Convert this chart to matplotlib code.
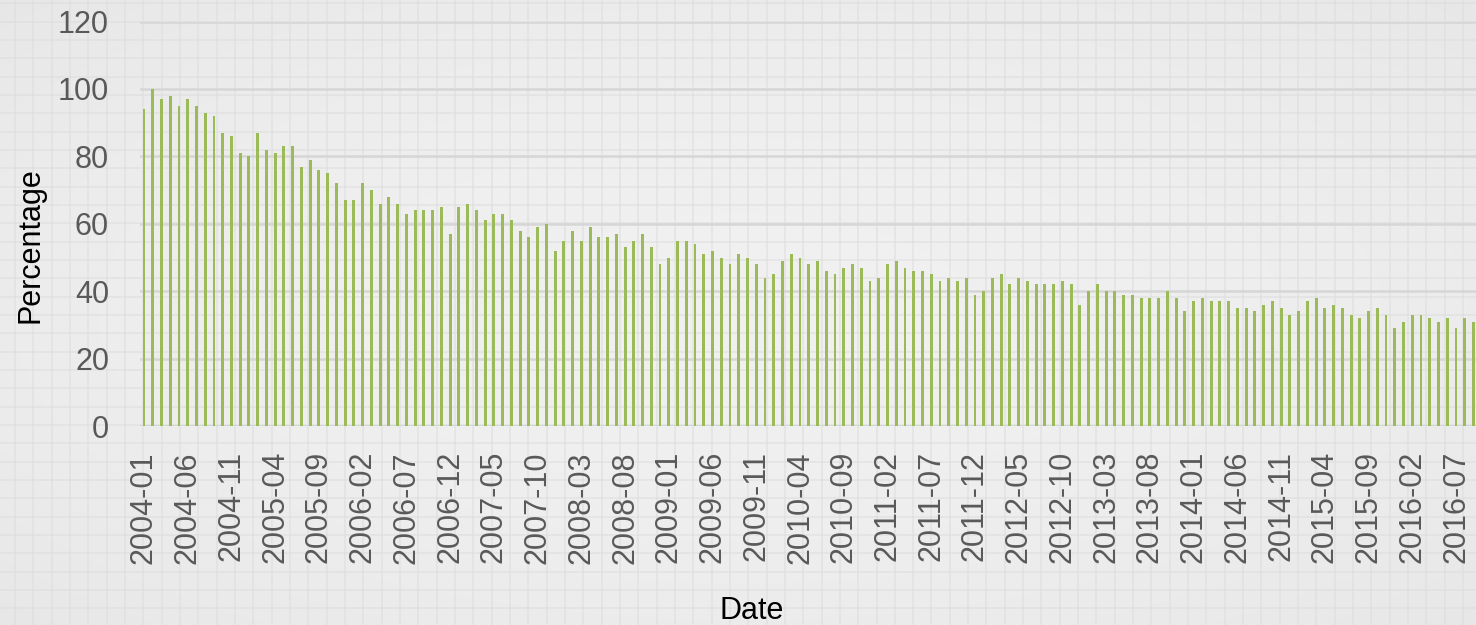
import matplotlib
matplotlib.use("Agg")
import matplotlib.pyplot as plt
import numpy as np
import pandas as pd

plt.rcParams['font.family'] = ['Liberation Sans', 'DejaVu Sans']

# ---- data ----
months = [p.strftime('%Y-%m') for p in pd.period_range('2004-01', '2016-09', freq='M')]
percentage = [
    94, 100, 97, 98, 95, 97, 95, 93, 92, 87, 86, 81, 80, 87, 82, 81, 83, 83, 77, 79,
    76, 75, 72, 67, 67, 72, 70, 66, 68, 66, 63,
    64, 64, 64, 65, 57, 65, 66, 64, 61, 63, 63, 61, 58, 56, 59, 60, 52, 55, 58, 55,
    59, 56, 56, 57, 53, 55, 57, 53, 48, 50, 55,
    55, 54, 51, 52, 50, 48, 51, 50, 48, 44, 45, 49, 51, 50, 48, 49, 46, 45, 47, 48,
    47, 43, 44, 48, 49, 47, 46, 46, 45, 43, 44,
    43, 44, 39, 40, 44, 45, 42, 44, 43, 42, 42, 42, 43, 42, 36, 40, 42, 40, 40, 39,
    39, 38, 38, 38, 40, 38, 34, 37, 38, 37, 37,
    37, 35, 35, 34, 36, 37, 35, 33, 34, 37, 38, 35, 36, 35, 33, 32, 34, 35, 33, 29,
    31, 33, 33, 32, 31, 32, 29, 32, 31,
]
yticks = [0, 20, 40, 60, 80, 100, 120]
tick_step = 5

W, H = 1476, 625
fig = plt.figure(figsize=(W / 100, H / 100), dpi=100)
fig.patch.set_facecolor('#ECECEC')

# background with faint grid pattern and subtle vignette
bg = fig.add_axes([0, 0, 1, 1], zorder=-10)
bg.set_xlim(0, W)
bg.set_ylim(H, 0)
yy, xx = np.mgrid[0:H:4, 0:W:4]
r = np.sqrt(((xx - W / 2) / (W / 2)) ** 2 + ((yy - H / 2) / (H / 2)) ** 2)
shade = 0.943 - 0.018 * np.clip(r, 0, 1.4) ** 2
bg.imshow(np.dstack([shade] * 3), extent=[0, W, H, 0], aspect='auto', interpolation='bilinear')
step = 18.33
for x in np.arange(15, W, step):
    bg.axvline(x, color='#DCDCDC', lw=1.3, alpha=0.55)
for y in np.arange(3.3, H, step):
    bg.axhline(y, color='#DCDCDC', lw=1.3, alpha=0.55)
bg.axis('off')

ax = fig.add_axes([139.6 / W, 1 - 426 / H, 1338.3 / W, (426 - 21.6) / H])
ax.set_facecolor('none')
x = np.arange(len(months))
ax.bar(x, percentage, width=0.33, color='#9BBB59', zorder=3)
ax.set_xlim(-0.5, len(months) - 0.5)
ax.set_ylim(0, 120)
ax.set_yticks(yticks)
ax.yaxis.grid(True, color='#D6D6D6', lw=1.8, zorder=0)
ax.set_xticks(x[::tick_step])
ax.set_xticklabels(months[::tick_step], rotation=90)
for s in ax.spines.values():
    s.set_visible(False)
ax.axhline(0, color='#D6D6D6', lw=1.8, zorder=2)
ax.tick_params(axis='x', length=0, pad=18, labelsize=22, labelcolor='#595959')
ax.tick_params(axis='y', length=0, pad=22, labelsize=22, labelcolor='#595959')

fig.text(31 / W, 1 - 245 / H, 'Percentage', rotation=90, ha='center', va='center',
         fontsize=22, color='black')
fig.text(752 / W, 1 - 611 / H, 'Date', ha='center', va='center', fontsize=22, color='black')

fig.savefig('out.png', dpi=100, facecolor=fig.get_facecolor())
